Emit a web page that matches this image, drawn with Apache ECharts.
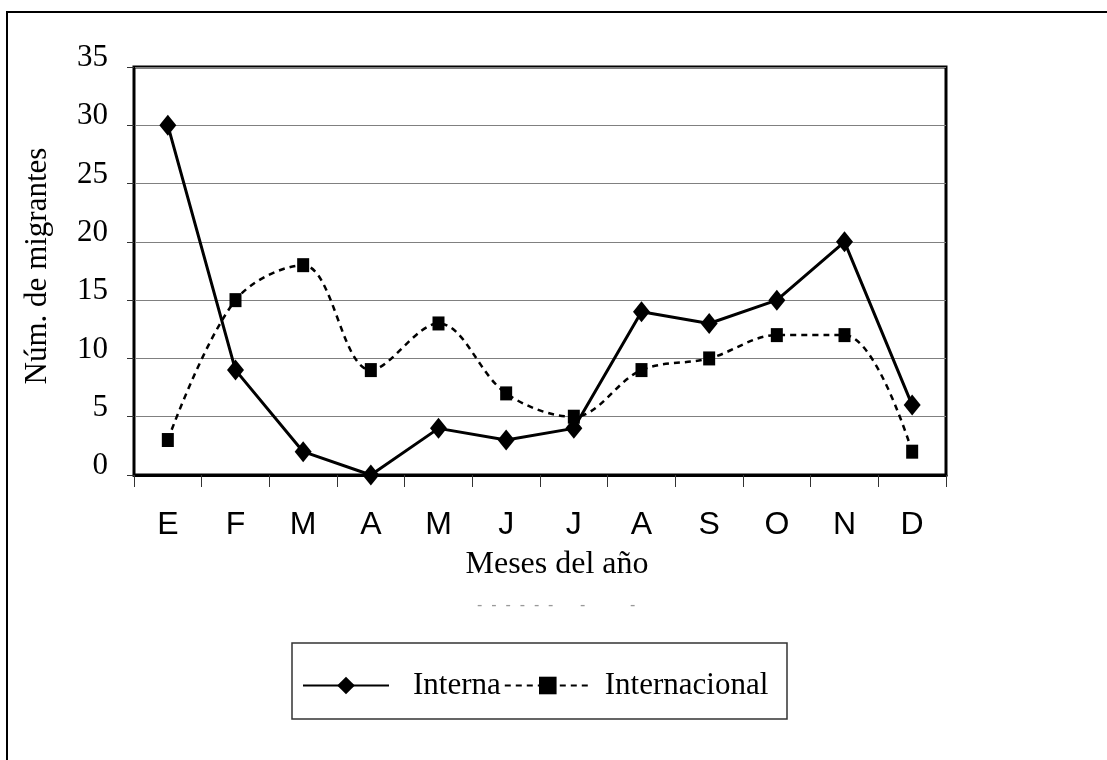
<!DOCTYPE html>
<html>
<head>
<meta charset="utf-8">
<script src="https://cdn.jsdelivr.net/npm/echarts@6/dist/echarts.min.js"></script>
<style>html,body{margin:0;padding:0;background:#fff}#c{width:1107px;height:760px}</style>
</head>
<body>
<div id="c"></div>
<script>
var months = ['E','F','M','A','M','J','J','A','S','O','N','D'];
var interna = [30, 9, 2, 0, 4, 3, 4, 14, 13, 15, 20, 6];
var internacional = [3, 15, 18, 9, 13, 7, 5, 9, 10, 12, 12, 2];
var yTicks = {min: 0, max: 35, interval: 5};
var seriesNames = ['Interna', 'Internacional'];
var yTitle = 'Núm. de migrantes';
var xTitle = 'Meses del año';

var serif = '"Liberation Serif", "Times New Roman", serif';
var sans = '"Liberation Sans", Arial, sans-serif';

var chart = echarts.init(document.getElementById('c'), null, {renderer: 'canvas'});
chart.setOption({
  animation: false,
  backgroundColor: '#fff',
  grid: {left: 134, right: 161, top: 67, bottom: 285, show: true, borderColor: '#000', borderWidth: 3, backgroundColor: 'transparent'},
  legend: {
    left: 302, top: 670,
    itemWidth: 86, itemHeight: 22, itemGap: 3,
    padding: 0,
    data: [
      {name: seriesNames[0], textStyle: {padding: [0, 0, 0, 19]}},
      {name: seriesNames[1], textStyle: {padding: [0, 0, 0, 9]}}
    ],
    textStyle: {fontFamily: serif, fontSize: 31, color: '#000'}
  },
  xAxis: {
    type: 'category',
    data: months,
    boundaryGap: true,
    axisLine: {lineStyle: {color: '#000', width: 3}},
    axisTick: {show: true, length: 12, alignWithLabel: false, lineStyle: {color: '#333', width: 1}},
    axisLabel: {fontFamily: sans, fontSize: 32, color: '#000', margin: 34},
    splitLine: {show: false}
  },
  yAxis: {
    type: 'value',
    min: yTicks.min, max: yTicks.max, interval: yTicks.interval,
    axisLine: {show: true, lineStyle: {color: '#000', width: 2}},
    axisTick: {show: true, length: 7, lineStyle: {color: '#333', width: 1}},
    axisLabel: {fontFamily: serif, fontSize: 31, color: '#000', margin: 26, verticalAlign: 'bottom', lineHeight: 18},
    splitLine: {show: true, lineStyle: {color: '#808080', width: 1}}
  },
  series: [
    {
      name: seriesNames[0], type: 'line', data: interna,
      symbol: 'diamond', symbolSize: [17, 21],
      lineStyle: {color: '#000', width: 3},
      itemStyle: {color: '#000'},
      z: 3
    },
    {
      name: seriesNames[1], type: 'line', data: internacional,
      smooth: 0.35,
      symbol: 'rect', symbolSize: [12, 14],
      lineStyle: {color: '#000', width: 2.5, type: [6, 5]},
      itemStyle: {color: '#000'},
      z: 2
    }
  ],
  graphic: [
    {type: 'rect', shape: {x: 7, y: 12, width: 1200, height: 800}, style: {fill: 'none', stroke: '#000', lineWidth: 2}, silent: true, z: -1},
    {type: 'rect', shape: {x: 292, y: 643, width: 495, height: 76}, style: {fill: 'none', stroke: '#333', lineWidth: 1.5}, silent: true},
    {type: 'text', x: 557, y: 565, style: {text: xTitle, font: '32px ' + serif, fill: '#000', textAlign: 'center', textVerticalAlign: 'middle'}},
    {type: 'text', x: 38, y: 266, rotation: Math.PI / 2, style: {text: yTitle, font: '31px ' + serif, fill: '#000', textAlign: 'center', textVerticalAlign: 'middle'}},
    {type: 'text', x: 477, y: 606, style: {text: '-  -  -  -  -  -      -          -', font: '16px ' + sans, fill: '#999', textAlign: 'left', textVerticalAlign: 'middle'}}
  ]
});
</script>
</body>
</html>
